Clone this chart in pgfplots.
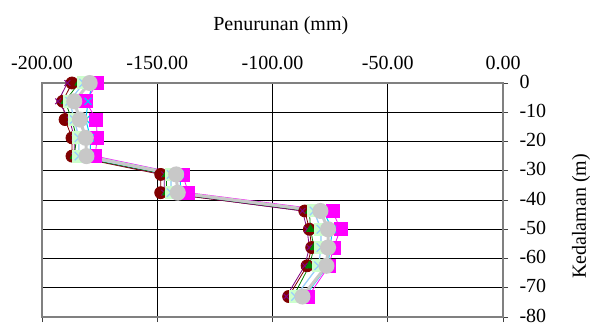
\documentclass[border=0pt]{standalone}
\usepackage{fontspec}
\setmainfont{Liberation Serif}
\usepackage{pgfplots}
\pgfplotsset{compat=1.18}
\definecolor{cmag}{HTML}{FF00FF}
\definecolor{cred}{HTML}{800000}
\definecolor{cgreen}{HTML}{008000}
\definecolor{cpurp}{HTML}{800080}
\definecolor{ccyan}{HTML}{00CCFF}
\definecolor{cpale}{HTML}{CCFFCC}
\definecolor{cblue}{HTML}{99CCFF}
\definecolor{cgray}{HTML}{C8C8C8}
\pgfplotstableread{
d G M R P Gr C PG
0 -179.3 -176 -187 -189 -184 -178 -182
-6.25 -186 -181 -191 -193 -190 -180 -188
-12.5 -183.6 -176.5 -190 -188 -187 -181 -186
-18.75 -181 -176 -187 -186 -185 -179 -184
-25 -180.7 -177 -187 -186 -186 -179 -184
-31.25 -141.8 -139 -148.5 -147 -146 -140 -144
-37.5 -141.1 -136.5 -148.5 -147 -146 -140 -144
-43.75 -79.2 -74 -86 -87 -84 -78 -82
-50 -75.9 -70.5 -84 -85 -83.5 -74 -79
-56.25 -75.9 -73.5 -83 -84 -82 -75 -79
-62.5 -76.6 -75.5 -85 -86 -84 -76 -80
-73 -87 -84.5 -93 -94 -91 -86 -90
}\data
\begin{document}
\begin{tikzpicture}[x=1pt,y=1pt]
\begin{axis}[
  scale only axis, width=461pt, height=234pt,
  xmin=-200, xmax=0, ymin=-80, ymax=0,
  xtick={-200,-150,-100,-50,0},
  xticklabels={-200.00,-150.00,-100.00,-50.00,0.00},
  ytick={-80,-70,-60,-50,-40,-30,-20,-10,0},
  yticklabels={-80,-70,-60,-50,-40,-30,-20,-10,0},
  xticklabel pos=right, yticklabel pos=right,
  xtick pos=left, ytick pos=right,
  tick align=outside, major tick length=5pt,
  tick style={black!75, line width=0.8pt},
  grid=major, major grid style={black, line width=0.8pt},
  axis line style={draw=black!50, line width=1.6pt},
  tick label style={font=\fontsize{20}{24}\selectfont},
  xticklabel style={anchor=base, yshift=8pt},
  yticklabel style={anchor=west, xshift=8pt, yshift=1.5pt},
  title={Penurunan (mm)},
  title style={font=\fontsize{20}{24}\selectfont, at={(rel axis cs:0.518,1)}, anchor=base, yshift=46pt},
  clip=false,
]
\addplot[cmag, line width=0.8pt, mark=square*, mark size=6.5pt, mark options={fill=cmag, draw=cmag}] table[x=M, y=d]{\data};
\addplot[cred, line width=0.8pt, mark=*, mark size=6pt, mark options={fill=cred, draw=cred}] table[x=R, y=d]{\data};
\addplot[cpurp, line width=0.8pt, mark=x, mark size=4pt, mark options={draw=cpurp, line width=1pt}] table[x=P, y=d]{\data};
\addplot[cgreen, line width=0.8pt, mark=triangle*, mark size=4.5pt, mark options={fill=cgreen, draw=cgreen}] table[x=Gr, y=d]{\data};
\addplot[ccyan, line width=1pt, mark=x, mark size=5pt, mark options={draw=ccyan, line width=1.2pt}] table[x=C, y=d]{\data};
\addplot[cpale, line width=1pt, mark=square*, mark size=6pt, mark options={fill=cpale, draw=cpale}] table[x=PG, y=d]{\data};
\addplot[cblue, line width=1.2pt, mark=x, mark size=6pt, mark options={draw=cblue, line width=1.2pt}] table[x=PG, y=d]{\data};
\addplot[cgray, line width=3pt, mark=*, mark size=6.5pt, mark options={fill=cgray, draw=cgray}] table[x=G, y=d]{\data};
\node[rotate=90, font=\fontsize{20}{24}\selectfont, anchor=center] at ([xshift=78pt]rel axis cs:1,0.43) {Kedalaman (m)};
\end{axis}
\pgfresetboundingbox
\path (-42,-9) rectangle (551,317);
\end{tikzpicture}
\end{document}
